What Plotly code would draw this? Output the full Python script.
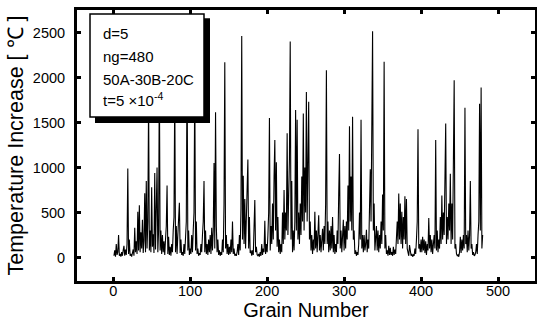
import plotly.graph_objects as go

# Temperature increase per grain, grains 1..480
temp_increase = [
    20, 80, 10, 150, 30, 60, 250, 20, 40, 10, 60, 20, 80, 130, 20, 90, 30, 150, 990, 40,
    200, 20, 40, 10, 50, 90, 20, 330, 60, 180, 40, 510, 80, 580, 60, 280, 100, 420, 50, 190,
    715, 60, 850, 100, 400, 1750, 80, 300, 60, 780, 120, 260, 50, 940, 90, 400, 1000, 60, 300, 2050,
    80, 300, 40, 250, 60, 180, 30, 200, 350, 800, 40, 230, 30, 120, 20, 150, 60, 300, 450, 1850,
    60, 350, 40, 250, 380, 610, 50, 200, 30, 60, 20, 150, 40, 200, 400, 2200, 80, 300, 30, 100,
    40, 250, 60, 300, 500, 1950, 80, 400, 40, 100, 20, 50, 30, 150, 60, 250, 400, 850, 60, 300,
    40, 150, 30, 200, 60, 250, 40, 330, 80, 300, 1050, 100, 1615, 350, 60, 200, 30, 80, 20, 60,
    30, 200, 60, 600, 2170, 100, 250, 40, 150, 30, 120, 40, 200, 60, 400, 40, 100, 20, 40, 20,
    60, 150, 30, 250, 80, 550, 2460, 200, 910, 150, 650, 100, 550, 700, 1090, 100, 450, 50, 80, 20,
    80, 30, 350, 640, 60, 120, 30, 20, 40, 10, 60, 20, 150, 30, 100, 60, 410, 40, 150, 60,
    250, 500, 1550, 80, 350, 150, 600, 200, 900, 1305, 300, 1060, 120, 450, 60, 200, 40, 150, 60, 500,
    150, 750, 200, 500, 300, 1380, 250, 700, 1100, 2400, 200, 850, 60, 300, 80, 400, 1640, 300, 1530, 200,
    500, 150, 600, 250, 900, 400, 1600, 300, 1000, 500, 1840, 400, 1200, 1730, 200, 400, 80, 250, 40, 200,
    80, 510, 100, 300, 60, 350, 470, 80, 250, 60, 200, 320, 80, 350, 150, 600, 2080, 150, 400, 60,
    300, 80, 350, 100, 450, 60, 250, 40, 150, 60, 300, 150, 700, 1150, 100, 300, 60, 250, 420, 80,
    350, 100, 400, 200, 800, 300, 1460, 400, 900, 300, 1565, 200, 300, 40, 80, 20, 60, 30, 150, 500,
    200, 1530, 100, 250, 60, 250, 80, 150, 310, 60, 200, 100, 500, 980, 400, 1500, 2515, 300, 600, 80,
    250, 350, 80, 300, 60, 250, 100, 400, 150, 700, 300, 2175, 100, 250, 40, 80, 20, 130, 30, 110,
    30, 60, 20, 120, 30, 90, 40, 200, 400, 150, 713, 200, 600, 150, 510, 100, 450, 200, 680, 150,
    650, 100, 40, 20, 140, 30, 20, 40, 10, 30, 20, 100, 40, 200, 400, 1425, 100, 150, 60, 200,
    60, 230, 80, 200, 50, 180, 30, 150, 80, 440, 100, 250, 60, 200, 40, 150, 250, 100, 1305, 80,
    300, 60, 200, 100, 450, 150, 690, 200, 500, 250, 1000, 1490, 150, 450, 200, 600, 300, 930, 150, 600,
    200, 800, 1970, 100, 150, 40, 20, 30, 10, 60, 230, 50, 200, 80, 250, 100, 1665, 150, 250, 60,
    300, 80, 250, 850, 100, 150, 30, 60, 20, 30, 60, 150, 40, 250, 400, 1710, 300, 1890, 100, 250,
]
grain_number = list(range(1, len(temp_increase) + 1))

x_ticks = [0, 100, 200, 300, 400, 500]
y_ticks = [0, 500, 1000, 1500, 2000, 2500]
info_lines = ["d=5", "ng=480", "50A-30B-20C", "t=5 ×10<sup>-4</sup>"]

FONT = "Liberation Sans, Arial, sans-serif"

fig = go.Figure()
fig.add_trace(go.Scatter(
    x=grain_number, y=temp_increase, mode="lines",
    line=dict(color="black", width=1.1), showlegend=False,
))

axis_common = dict(
    showline=True, linewidth=3, linecolor="black", mirror="ticks",
    ticks="inside", ticklen=4, tickwidth=3, tickcolor="black",
    showgrid=False, zeroline=False, automargin=False,
    tickfont=dict(family=FONT, size=14.5, color="black"),
)

fig.update_layout(
    width=537, height=327,
    margin=dict(l=77, r=2, t=10, b=46),
    paper_bgcolor="white", plot_bgcolor="white",
    xaxis=dict(range=[-47, 548], tickvals=x_ticks, ticklabelstandoff=-5,
               title=dict(text="Grain Number", font=dict(family=FONT, size=20, color="black"),
                          standoff=0),
               **axis_common),
    yaxis=dict(range=[-260, 2750], tickvals=y_ticks, ticklabelstandoff=6,
               title=dict(text="Temperature Increase [ ℃ ]",
                          font=dict(family=FONT, size=21.5, color="black"), standoff=4),
               **axis_common),
)

# legend-like info box with drop shadow
fig.add_shape(type="rect", xref="paper", yref="paper",
              x0=0.0393, x1=0.2904, y0=0.583, y1=0.970,
              fillcolor="black", line=dict(color="black", width=0), layer="above")
fig.add_shape(type="rect", xref="paper", yref="paper",
              x0=0.0284, x1=0.2773, y0=0.605, y1=0.985,
              fillcolor="white", line=dict(color="black", width=1.5), layer="above")

line_y = [0.915, 0.827, 0.742, 0.668]
for txt, yy in zip(info_lines, line_y):
    fig.add_annotation(text=txt, xref="paper", yref="paper", x=0.0524, y=yy,
                       xanchor="left", yanchor="middle", showarrow=False,
                       font=dict(family=FONT, size=15, color="black"))

fig.write_html("out.html", config={"displayModeBar": False},
               post_script="document.body.style.margin='0';document.body.style.overflow='hidden';")
